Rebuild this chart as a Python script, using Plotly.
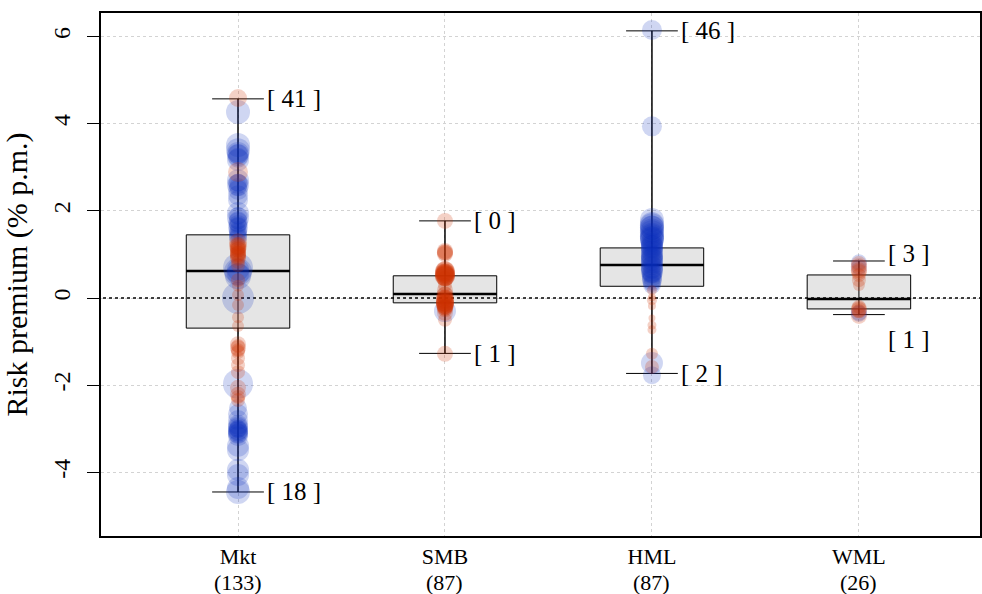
import plotly.graph_objects as go

# ---------------- data ----------------
factors = ["Mkt", "SMB", "HML", "WML"]
n_obs = [133, 87, 87, 26]
q1 = [-0.69, -0.11, 0.27, -0.25]
median = [0.62, 0.09, 0.76, -0.02]
q3 = [1.45, 0.51, 1.15, 0.53]
lower = [-4.45, -1.27, -1.73, -0.38]
upper = [4.57, 1.77, 6.13, 0.85]
n_upper = [41, 0, 46, 3]
n_lower = [18, 1, 2, 1]

mkt_vals = [4.59, 4.27, 3.51, 3.39, 3.28, 3.17, 2.89, 2.70, 2.59, 2.48, 2.36, 2.25,
            1.95, 1.83, 1.74, 1.61, 1.47, 1.38, 1.28, 1.19, 1.10, 1.01, 0.92, 0.83,
            0.69, 0.60, 0.50, 0.41, 0.28, 0.00, 0.07, -0.16, -0.44, -0.64, -1.06,
            -1.15, -1.24, -1.38, -1.54, -1.70, -1.97, -2.06, -2.22, -2.34, -2.52,
            -2.66, -2.80, -2.91, -2.98, -3.03, -3.07, -3.12, -3.17, -3.39, -3.49,
            -3.94, -4.06, -4.36, -4.45, 1.52, 1.66, 2.62, 3.33, -3.0,
            1.88, 1.79, 1.70, 1.56, 2.65, 2.55, 3.30, 3.22, -3.05, -3.10, -2.95,
            1.15, 1.05, 0.98, 1.22, 0.65, 0.55, 0.75, -1.10, -1.20, -2.27, 1.42,
            1.12, 1.02, 0.95, 1.18]
mkt_side = ["r", "b", "b", "b", "b", "b", "r", "b", "b", "b", "b", "b",
            "b", "b", "b", "b", "b", "b", "r", "r", "r", "r", "r", "r",
            "b", "b", "b", "r", "r", "b", "r", "r", "r", "r", "r",
            "r", "r", "r", "r", "r", "b", "r", "r", "r", "b",
            "b", "b", "b", "b", "b", "b", "b", "b", "b", "b",
            "b", "b", "b", "b", "b", "b", "b", "b", "b",
            "b", "b", "b", "b", "b", "b", "b", "b", "b", "b", "b",
            "r", "r", "r", "r", "b", "b", "r", "r", "r", "r", "b",
            "r", "r", "r", "r"]
mkt_size = [18, 24, 24, 24, 22, 22, 20, 22, 22, 20, 20, 20,
            22, 22, 20, 20, 18, 18, 18, 18, 16, 16, 16, 14,
            30, 28, 26, 14, 12, 32, 12, 12, 12, 12, 16,
            16, 14, 14, 14, 14, 30, 16, 16, 14, 18,
            20, 20, 20, 20, 20, 20, 20, 20, 22, 22,
            22, 22, 22, 24, 18, 18, 20, 22, 18,
            18, 18, 18, 18, 18, 18, 20, 20, 20, 20, 20,
            16, 16, 16, 16, 22, 22, 14, 14, 14, 14, 18,
            16, 16, 16, 16]

smb_vals = [1.77, 1.08, 1.01, 0.64, 0.57, 0.50, 0.44, 0.30, 0.18, 0.05, -0.05,
            -0.11, -0.23, -0.30, -0.34, -0.50, -1.28, 0.55, 0.0, -0.18,
            0.60, 0.52, 0.48, 1.05, -0.08, -0.15, -0.20, -0.26, 0.02, 0.58, -0.12,
            0.62, 0.54, 0.50, 0.56, -0.02, -0.10, -0.16, -0.22, 1.04, 0.08]
smb_side = ["r", "r", "r", "r", "r", "r", "r", "r", "r", "r", "r",
            "r", "r", "b", "r", "r", "r", "r", "r", "r",
            "r", "r", "r", "r", "r", "r", "r", "r", "r", "r", "r",
            "r", "r", "r", "r", "r", "r", "r", "r", "r", "r"]
smb_size = [16, 16, 16, 18, 20, 20, 16, 14, 16, 18, 18,
            18, 16, 22, 16, 14, 16, 18, 16, 16,
            20, 20, 18, 16, 18, 18, 16, 16, 16, 18, 18,
            20, 20, 20, 20, 18, 18, 18, 16, 16, 16]

hml_vals = [6.15, 3.94, 1.79, 1.67, 1.61, 1.51, 1.42, 1.33, 1.24, 1.15, 1.06, 0.96,
            0.87, 0.78, 0.69, 0.60, 0.50, 0.41, 0.30, 0.18, 0.02, -0.05, -0.18,
            -0.46, -0.62, -0.73, -1.28, -1.49, -1.58, -1.77, 1.2, 0.9,
            1.70, 1.55, 1.45, 1.38, 1.28, 1.10, 1.00, 0.82, 0.72, 0.64, 0.55, 0.45, 0.35,
            1.62, 1.36, 1.18, 0.94, 0.58]
hml_side = ["b", "b", "b", "b", "b", "b", "b", "b", "b", "b", "b", "b",
            "b", "b", "b", "b", "b", "b", "b", "r", "r", "r", "r",
            "r", "r", "r", "r", "b", "r", "b", "b", "b",
            "b", "b", "b", "b", "b", "b", "b", "b", "b", "b", "b", "b", "b",
            "b", "b", "b", "b", "b"]
hml_size = [20, 20, 24, 24, 24, 24, 24, 24, 22, 22, 22, 22,
            22, 22, 22, 22, 20, 20, 18, 10, 8, 10, 8,
            7, 9, 9, 12, 22, 14, 18, 22, 22,
            24, 24, 24, 24, 22, 22, 22, 22, 22, 22, 20, 20, 18,
            24, 24, 22, 22, 20]

wml_vals = [0.82, 0.78, 0.73, 0.64, 0.53, 0.41, 0.30, -0.20, -0.25, -0.34, -0.41, -0.30,
            0.70, 0.60, -0.28, -0.36]
wml_side = ["b", "r", "r", "r", "r", "r", "r", "r", "r", "b", "r", "r",
            "b", "r", "r", "b"]
wml_size = [16, 16, 16, 16, 14, 14, 12, 14, 16, 16, 16, 14,
            16, 16, 16, 16]

points = [(mkt_vals, mkt_side, mkt_size), (smb_vals, smb_side, smb_size),
          (hml_vals, hml_side, hml_size), (wml_vals, wml_side, wml_size)]

y_ticks = [-4, -2, 0, 2, 4, 6]

# ---------------- figure ----------------
FONT = "Liberation Serif"
pos = [1, 2, 3, 4]
BLUE = "rgba(10,45,190,0.28)"
RED = "rgba(205,50,0,0.32)"

fig = go.Figure()

# whiskers through full range (drawn below boxes)
for i, p in enumerate(pos):
    fig.add_trace(go.Scatter(x=[p, p], y=[lower[i], upper[i]], mode="lines",
                             line=dict(color="black", width=1), showlegend=False,
                             hoverinfo="skip"))

fig.add_trace(go.Box(x=pos, q1=q1, median=median, q3=q3, lowerfence=lower,
                     upperfence=upper, width=0.5, whiskerwidth=0.5,
                     fillcolor="#e5e5e5", line=dict(color="black", width=1),
                     boxpoints=False, showlegend=False, hoverinfo="skip"))

# thick median lines
for i, p in enumerate(pos):
    fig.add_trace(go.Scatter(x=[p - 0.25, p + 0.25], y=[median[i], median[i]],
                             mode="lines", line=dict(color="black", width=2.5),
                             showlegend=False, hoverinfo="skip"))

# zero reference line
fig.add_trace(go.Scatter(x=[0, 5], y=[0, 0], mode="lines",
                         line=dict(color="black", width=1.6, dash="dot"),
                         showlegend=False, hoverinfo="skip"))

# points
for i, (vals, side, size) in enumerate(points):
    for s, col in (("b", BLUE), ("r", RED)):
        ys = [v for v, c in zip(vals, side) if c == s]
        ss = [z for z, c in zip(size, side) if c == s]
        fig.add_trace(go.Scatter(x=[pos[i]] * len(ys), y=ys, mode="markers",
                                 marker=dict(color=col, size=ss, line=dict(width=0)),
                                 showlegend=False, hoverinfo="skip"))

# count labels
nudge_up = [0, 0, 0, 0.18]
nudge_dn = [0, 0, 0, -0.58]
for i, p in enumerate(pos):
    fig.add_annotation(x=p + 0.13, y=upper[i] + nudge_up[i], text=f"[ {n_upper[i]} ]",
                       showarrow=False, xanchor="left", yanchor="middle",
                       font=dict(family=FONT, size=25, color="black"))
    fig.add_annotation(x=p + 0.13, y=lower[i] + nudge_dn[i], text=f"[ {n_lower[i]} ]",
                       showarrow=False, xanchor="left", yanchor="middle",
                       font=dict(family=FONT, size=25, color="black"))
    # sample size under category name
    fig.add_annotation(x=p, y=0, yref="paper", yshift=-32, text=f"({n_obs[i]})",
                       showarrow=False, xanchor="center", yanchor="top",
                       font=dict(family=FONT, size=22, color="black"))

fig.update_layout(
    width=982, height=594,
    margin=dict(l=101, r=2, t=13, b=58),
    plot_bgcolor="white", paper_bgcolor="white",
    font=dict(family=FONT, size=24, color="black"),
    hovermode=False,
)
fig.update_xaxes(
    range=[0.338, 4.585], tickmode="array", tickvals=pos, ticktext=factors,
    showgrid=True, gridcolor="#d3d3d3", griddash="dot", gridwidth=1,
    showline=True, mirror=True, linecolor="black", linewidth=1.5,
    ticks="", zeroline=False, tickfont=dict(size=22), automargin=False,
    ticklabelstandoff=0,
)
fig.update_yaxes(
    range=[-5.46, 6.54], tickmode="array", tickvals=y_ticks,
    ticktext=[str(t) for t in y_ticks], tickangle=-90,
    showgrid=True, gridcolor="#d3d3d3", griddash="dot", gridwidth=1,
    showline=True, mirror=True, linecolor="black", linewidth=1.5,
    ticks="outside", ticklen=12, tickcolor="black", zeroline=False,
    ticklabelstandoff=8, tickfont=dict(size=24), automargin=False,
    title=dict(text="Risk premium (% p.m.)", font=dict(size=30), standoff=14),
)

fig.write_html("out.html")
